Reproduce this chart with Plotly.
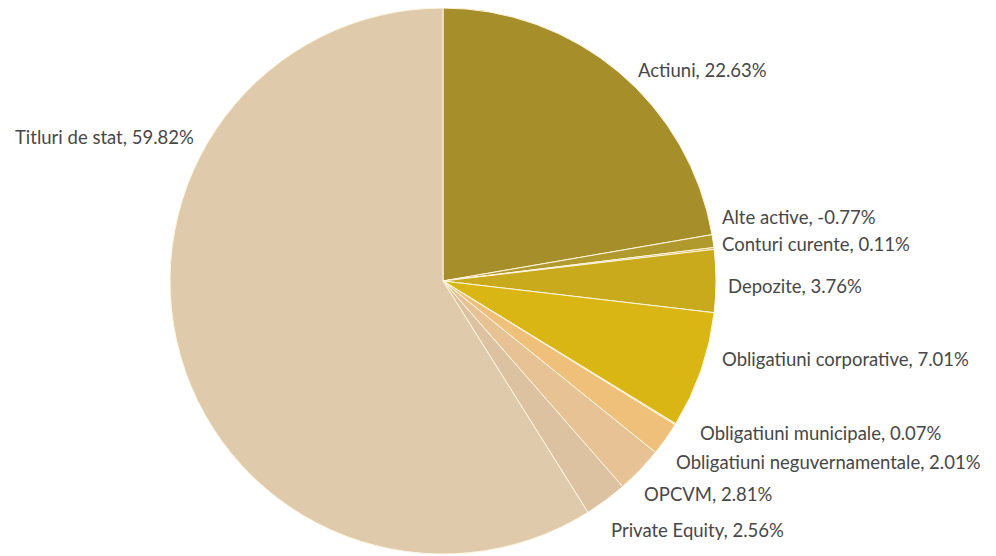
import plotly.graph_objects as go

categories = ["Actiuni", "Alte active", "Conturi curente", "Depozite",
              "Obligatiuni corporative", "Obligatiuni municipale",
              "Obligatiuni neguvernamentale", "OPCVM", "Private Equity",
              "Titluri de stat"]
values = [22.63, -0.77, 0.11, 3.76, 7.01, 0.07, 2.01, 2.81, 2.56, 59.82]
colors = ["#a68f2b", "#b09a2e", "#c4a626", "#c9aa1c", "#dab614",
          "#f6c244", "#efc07a", "#e6c294", "#dcc2a0", "#e0caac"]

# label anchor positions in page pixels (left edge / right edge, vertical middle)
label_px = [(636, 70, "left"), (720, 217, "left"), (720, 244, "left"),
            (726, 286, "left"), (720, 359, "left"), (698, 433, "left"),
            (674, 462, "left"), (642, 494, "left"), (609, 530, "left"),
            (196, 137, "right")]

OFF = 8  # default body margin of the html page
W, H = 988, 548
CX, CY, R = 443 - OFF, 281 - OFF, 273

sizes = [abs(v) for v in values]
texts = [f"{c}, {v:.2f}%" for c, v in zip(categories, values)]

fig = go.Figure(go.Pie(
    labels=categories,
    values=sizes,
    textinfo="none",
    sort=False,
    direction="clockwise",
    rotation=0,
    marker=dict(colors=colors, line=dict(color="#fff6e0", width=1)),
    showlegend=False,
    hoverinfo="label+text",
    hovertext=texts,
    domain=dict(x=[(CX - R) / W, (CX + R) / W],
                y=[(H - CY - R) / H, (H - CY + R) / H]),
))

for t, (px, py, anc) in zip(texts, label_px):
    fig.add_annotation(
        x=(px - OFF) / W, y=1 - (py - OFF) / H, xref="paper", yref="paper",
        text=t, showarrow=False, xanchor=anc, yanchor="middle",
        font=dict(family="Lato", size=18.5, color="#474747"),
    )

fig.update_layout(
    width=W, height=H,
    margin=dict(l=0, r=0, t=0, b=0),
    paper_bgcolor="white",
    plot_bgcolor="white",
)

fig.write_html("out.html")
